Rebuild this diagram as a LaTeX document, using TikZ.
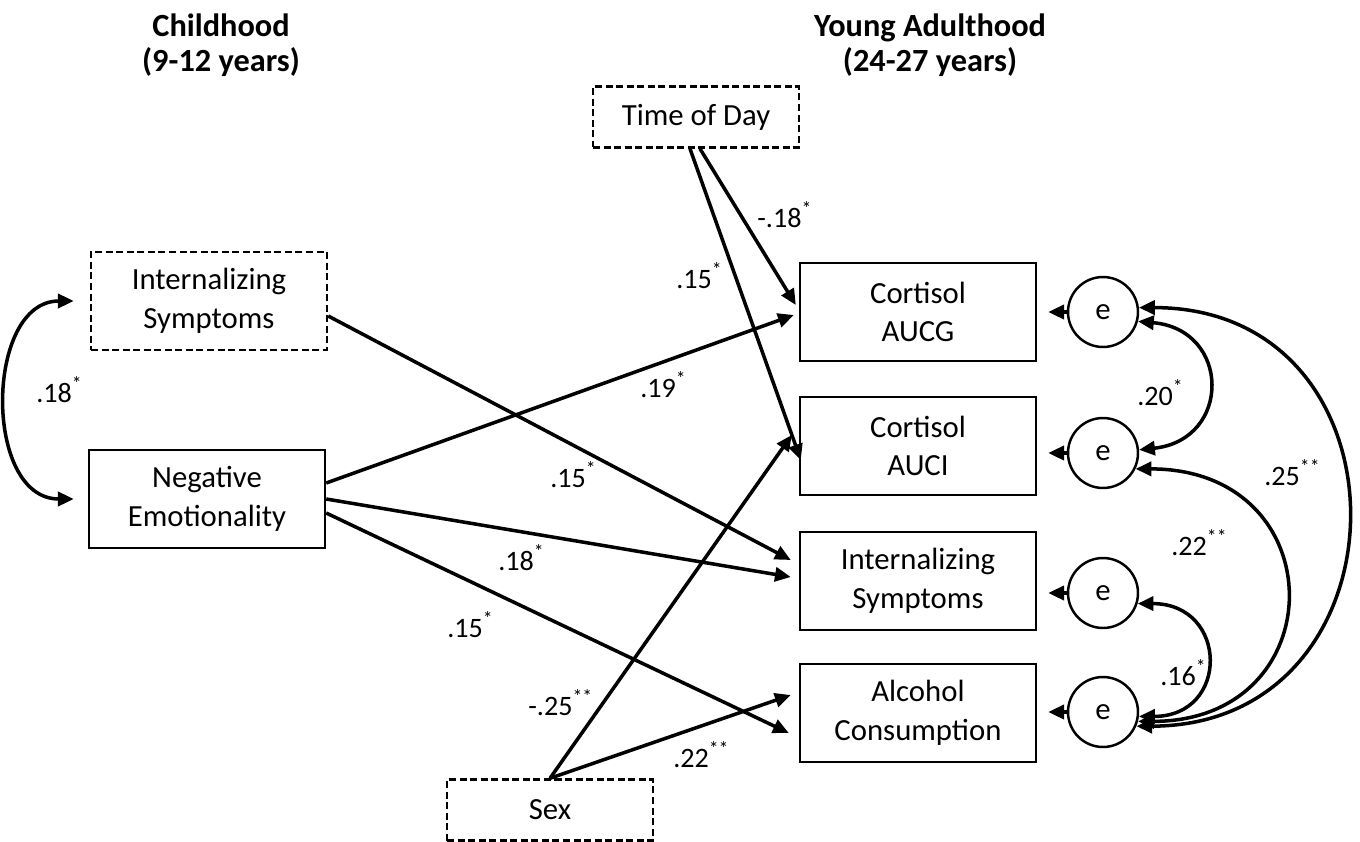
\documentclass[tikz,border=0pt]{standalone}
\usepackage{fontspec}
\setmainfont{Carlito}
\usetikzlibrary{arrows.meta}

\begin{document}
\begin{tikzpicture}[x=0.02cm,y=-0.02cm,
    var/.style={draw,line width=1.4pt,minimum width=4.72cm,minimum height=1.96cm,inner sep=0pt,align=center,font=\fontsize{17.5}{22}\selectfont},
    ctrl/.style={var,dashed,minimum width=4.12cm,minimum height=1.22cm},
    err/.style={draw,circle,line width=1.4pt,minimum size=1.4cm,inner sep=0pt,font=\fontsize{17.5}{22}\selectfont},
    title/.style={align=center,font=\bfseries\fontsize{18.4}{20}\selectfont},
    coef/.style={anchor=base west,inner sep=0pt,font=\fontsize{16}{19}\selectfont},
    effect/.style={line width=2pt,-{Triangle[length=9pt,width=8pt]}},
    cov/.style={line width=2pt,{Triangle[length=9pt,width=8pt]}-{Triangle[length=9pt,width=8pt]}},
    dashed/.style={dash pattern=on 4pt off 2pt}]
  \useasboundingbox (0,0) rectangle (1360,842);

  % time points
  \node[title] (tchild) at (221,45) {Childhood\\(9-12 years)};
  \node[title] (tyoung) at (930,45) {Young Adulthood\\(24-27 years)};

  % childhood
  \node[var,dashed] (ic) at (209,301) {Internalizing\\Symptoms};
  \node[var] (ne) at (207,499) {Negative\\Emotionality};

  % covariates
  \node[ctrl] (tod) at (696,117) {Time of Day};
  \node[ctrl] (sex) at (550,810) {Sex};

  % young adulthood
  \node[var] (cg) at (918,312) {Cortisol\\AUCG};
  \node[var] (ci) at (918,446) {Cortisol\\AUCI};
  \node[var] (iy) at (918,581) {Internalizing\\Symptoms};
  \node[var] (al) at (918,713) {Alcohol\\Consumption};

  % residuals
  \node[err] (e1) at (1103,312) {e};
  \node[err] (e2) at (1103,453) {e};
  \node[err] (e3) at (1103,593) {e};
  \node[err] (e4) at (1103,712) {e};

  \draw[effect,shorten >=0.22cm] (e1.west) -- (e1.west -| cg.east);
  \draw[effect,shorten >=0.22cm] (e2.west) -- (e2.west -| ci.east);
  \draw[effect,shorten >=0.22cm] (e3.west) -- (e3.west -| iy.east);
  \draw[effect,shorten >=0.22cm] (e4.west) -- (e4.west -| al.east);

  % paths
  \draw[effect] ([xshift=0.08cm]tod.south) -- ([xshift=-0.06cm,yshift=0.14cm]cg.west);
  \draw[effect] ([xshift=-0.12cm]tod.south) -- ([xshift=0.04cm,yshift=-0.28cm]ci.west);
  \draw[effect] ([yshift=0.32cm]ne.east) -- ([xshift=-0.1cm,yshift=-0.06cm]cg.west);
  \draw[effect] ([yshift=-0.3cm]ic.east) -- ([xshift=-0.16cm,yshift=0.42cm]iy.west);
  \draw[effect] (ne.east) -- ([xshift=-0.16cm,yshift=0.08cm]iy.west);
  \draw[effect] ([yshift=-0.28cm]ne.east) -- ([xshift=-0.2cm,yshift=-0.4cm]al.west);
  \draw[effect] (sex.north) -- ([xshift=-0.14cm,yshift=0.22cm]ci.west);
  \draw[effect] (sex.north) -- ([xshift=-0.16cm,yshift=0.36cm]al.west);

  % covariances
  \draw[cov,shorten <=0.32cm,shorten >=0.28cm] (ic.west) .. controls +(-105,0) and +(-105,0) .. (ne.west);
  \draw[cov] (e1.-15) .. controls +(93,8) and +(93,-10) .. (e2.5);
  \draw[cov] (e1.7) .. controls +(280,0) and +(278,0) .. (e4.-23);
  \draw[cov] (e2.-26) .. controls +(200,0) and +(197,0) .. (e4.-15);
  \draw[cov] (e3.-17) .. controls +(91,0) and +(91,0) .. (e4.-7);

  % coefficients
  \node[coef] (c1) at (757,227) {-.18\textsuperscript{*}};
  \node[coef] (c2) at (676,288) {.15\textsuperscript{*}};
  \node[coef] (c3) at (640,397) {.19\textsuperscript{*}};
  \node[coef] (c4) at (550,487) {.15\textsuperscript{*}};
  \node[coef] (c5) at (498,570) {.18\textsuperscript{*}};
  \node[coef] (c6) at (447,637) {.15\textsuperscript{*}};
  \node[coef] (c7) at (528,715) {-.25\textsuperscript{**}};
  \node[coef] (c8) at (673,767) {.22\textsuperscript{**}};
  \node[coef] (c9) at (36,402) {.18\textsuperscript{*}};
  \node[coef] (c10) at (1137,405) {.20\textsuperscript{*}};
  \node[coef] (c11) at (1264,485) {.25\textsuperscript{**}};
  \node[coef] (c12) at (1171,555) {.22\textsuperscript{**}};
  \node[coef] (c13) at (1160,685) {.16\textsuperscript{*}};
\end{tikzpicture}
\end{document}
